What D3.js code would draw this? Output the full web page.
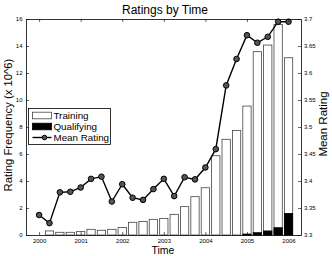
<!DOCTYPE html>
<html>
<head>
<meta charset="utf-8">
<script src="https://cdn.jsdelivr.net/npm/d3@7"></script>
<style>
  body { margin: 0; background: #fff; }
  svg { display: block; font-family: "Liberation Sans", Arial, sans-serif; }
</style>
</head>
<body>
<div id="chart"></div>
<script>
// Quarter positions (decimal years)
const quarters = [2000, 2000.25, 2000.5, 2000.75, 2001, 2001.25, 2001.5, 2001.75,
                  2002, 2002.25, 2002.5, 2002.75, 2003, 2003.25, 2003.5, 2003.75,
                  2004, 2004.25, 2004.5, 2004.75, 2005, 2005.25, 2005.5, 2005.75, 2006];

// Rating frequency (x 10^6)
const training = [0, 0.3, 0.2, 0.2, 0.25, 0.42, 0.35, 0.42, 0.55, 0.94, 1.0, 1.16,
                  1.23, 1.53, 2.1, 2.84, 3.5, 5.87, 7.09, 7.75, 9.55, 13.58, 14.07, 15.6, 13.13];
const qualifying = [0, 0, 0, 0, 0, 0, 0, 0, 0, 0, 0, 0,
                    0, 0, 0, 0, 0, 0, 0, 0, 0.07, 0.17, 0.3, 0.54, 1.6];

// Mean rating
const meanRating = [3.337, 3.322, 3.379, 3.380, 3.388, 3.404, 3.408, 3.362, 3.394, 3.369, 3.365, 3.385,
                    3.404, 3.372, 3.407, 3.403, 3.425, 3.459, 3.577, 3.626, 3.670, 3.656, 3.667, 3.695, 3.695];

const yearTicks = [2000, 2001, 2002, 2003, 2004, 2005, 2006];
const leftTicks = [0, 2, 4, 6, 8, 10, 12, 14, 16];
const rightTicks = [3.3, 3.35, 3.4, 3.45, 3.5, 3.55, 3.6, 3.65, 3.7];
const legendLabels = ["Training", "Qualifying", "Mean Rating"];

const W = 332, H = 256;
const margin = { top: 19, right: 31, bottom: 21, left: 26 };
const width = W - margin.left - margin.right,
      height = H - margin.top - margin.bottom;

const svg = d3.select("#chart").append("svg")
    .attr("width", W)
    .attr("height", H);

const g = svg.append("g")
    .attr("transform", `translate(${margin.left},${margin.top})`);

// scales
const x = d3.scaleLinear().domain([1999.685, 2006.3]).range([0, width]);
const yL = d3.scaleLinear().domain([0, 16]).range([height, 0]);
const yR = d3.scaleLinear().domain([3.3, 3.7]).range([height, 0]);

const barW = (x(2000.25) - x(2000)) * 0.8;
const rows = quarters.map((q, i) => ({ q: q, t: training[i], k: qualifying[i], r: meanRating[i] }));

// training bars
g.selectAll(".train")
    .data(rows.filter(d => d.t > 0))
    .enter().append("rect")
    .attr("x", d => x(d.q) - barW / 2)
    .attr("y", d => yL(d.t))
    .attr("width", barW)
    .attr("height", d => yL(0) - yL(d.t))
    .attr("fill", "#fff")
    .attr("stroke", "#444")
    .attr("stroke-width", 0.8);

// qualifying bars
g.selectAll(".qual")
    .data(rows.filter(d => d.k > 0))
    .enter().append("rect")
    .attr("x", d => x(d.q) - barW / 2)
    .attr("y", d => yL(d.k))
    .attr("width", barW)
    .attr("height", d => yL(0) - yL(d.k))
    .attr("fill", "#000")
    .attr("stroke", "#000")
    .attr("stroke-width", 0.8);

// mean rating line
const line = d3.line()
    .x(d => x(d.q))
    .y(d => yR(d.r));

g.append("path")
    .datum(rows)
    .attr("fill", "none")
    .attr("stroke", "#000")
    .attr("stroke-width", 1.4)
    .attr("d", line);

g.selectAll(".pt")
    .data(rows)
    .enter().append("circle")
    .attr("cx", d => x(d.q))
    .attr("cy", d => yR(d.r))
    .attr("r", 2.8)
    .attr("fill", "#555")
    .attr("stroke", "#000")
    .attr("stroke-width", 1);

// axes (ticks pointing inward, matlab style)
function styleAxis(sel) {
    sel.select(".domain").attr("stroke", "#000").attr("stroke-width", 0.8);
    sel.selectAll(".tick line").attr("stroke", "#000").attr("stroke-width", 0.6);
    sel.selectAll(".tick text").attr("font-size", 6).attr("font-family", "Liberation Sans, Arial, sans-serif");
}

g.append("g")
    .attr("transform", `translate(0,${height})`)
    .call(d3.axisBottom(x).tickValues(yearTicks).tickFormat(d3.format("d"))
          .tickSizeInner(-3).tickSizeOuter(0).tickPadding(3.5))
    .call(styleAxis);

g.append("g")
    .call(d3.axisTop(x).tickValues(yearTicks).tickFormat("")
          .tickSizeInner(-3).tickSizeOuter(0))
    .call(styleAxis);

g.append("g")
    .call(d3.axisLeft(yL).tickValues(leftTicks)
          .tickSizeInner(-3).tickSizeOuter(0).tickPadding(3.5))
    .call(styleAxis);

g.append("g")
    .attr("transform", `translate(${width},0)`)
    .call(d3.axisRight(yR).tickValues(rightTicks).tickFormat(d => d3.format("")(+d.toFixed(2)))
          .tickSizeInner(-3).tickSizeOuter(0).tickPadding(3))
    .call(styleAxis);

// title and labels
svg.append("text")
    .attr("x", 165)
    .attr("y", 13.5)
    .attr("text-anchor", "middle")
    .attr("font-size", 12)
    .text("Ratings by Time");

svg.append("text")
    .attr("x", 163)
    .attr("y", 254)
    .attr("text-anchor", "middle")
    .attr("font-size", 10.5)
    .text("Time");

svg.append("text")
    .attr("transform", "rotate(-90)")
    .attr("x", -125)
    .attr("y", 12)
    .attr("text-anchor", "middle")
    .attr("font-size", 11.3)
    .text("Rating Frequency (x 10^6)");

svg.append("text")
    .attr("transform", "rotate(-90)")
    .attr("x", -124)
    .attr("y", 327)
    .attr("text-anchor", "middle")
    .attr("font-size", 11.5)
    .text("Mean Rating");

// legend
const legend = svg.append("g").attr("transform", "translate(28.5,108.5)");

legend.append("rect")
    .attr("width", 82)
    .attr("height", 36)
    .attr("fill", "#fff")
    .attr("stroke", "#000")
    .attr("stroke-width", 0.8);

legendLabels.forEach((lab, i) => {
    const cy = 7 + i * 11;
    if (i < 2) {
        legend.append("rect")
            .attr("x", 4)
            .attr("y", cy - 3.3)
            .attr("width", 19)
            .attr("height", 6.6)
            .attr("fill", i === 0 ? "#fff" : "#000")
            .attr("stroke", i === 0 ? "#444" : "#000")
            .attr("stroke-width", 0.8);
    } else {
        legend.append("line")
            .attr("x1", 4).attr("x2", 23)
            .attr("y1", cy).attr("y2", cy)
            .attr("stroke", "#000")
            .attr("stroke-width", 1.4);
        legend.append("circle")
            .attr("cx", 16).attr("cy", cy)
            .attr("r", 2.3)
            .attr("fill", "#555")
            .attr("stroke", "#000");
    }
    legend.append("text")
        .attr("x", 25)
        .attr("y", cy + 3.5)
        .attr("font-size", 9.8)
        .text(lab);
});
</script>
</body>
</html>
